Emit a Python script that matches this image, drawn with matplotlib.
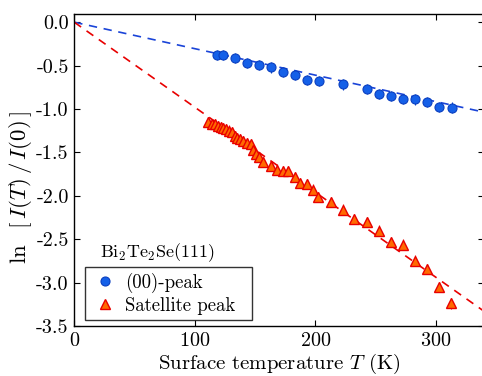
import matplotlib
matplotlib.use("Agg")
import matplotlib.pyplot as plt
from matplotlib.lines import Line2D
from matplotlib.ticker import FormatStrFormatter

plt.rcParams["font.family"] = "serif"
plt.rcParams["font.serif"] = ["cmr10"]
plt.rcParams["mathtext.fontset"] = "cm"
plt.rcParams["axes.unicode_minus"] = False
plt.rcParams["axes.formatter.use_mathtext"] = True

# (00)-peak: surface temperature (K) and ln[I(T)/I(0)]
spec_T = [118.1, 123.1, 133.3, 143.5, 153.2, 162.9, 173.1, 183.1, 192.8, 202.9,
          222.6, 243.0, 252.7, 262.4, 272.9, 282.6, 292.5, 302.2, 313.0]
spec_lnI = [-0.378, -0.378, -0.413, -0.471, -0.490, -0.521, -0.574, -0.609, -0.663, -0.675,
            -0.717, -0.767, -0.825, -0.851, -0.882, -0.890, -0.920, -0.975, -0.983]

# satellite peak
sat_T = [111.1, 113.9, 116.7, 119.4, 121.4, 123.6, 125.8, 128.6, 130.5, 133.3,
         135.2, 137.4, 140.2, 143.0, 146.3, 148.0, 150.4, 153.2, 156.8, 162.9,
         168.4, 172.8, 177.5, 183.1, 187.2, 193.3, 198.2, 202.4, 212.7, 222.6,
         232.0, 242.5, 252.7, 262.4, 272.4, 282.6, 292.8, 302.7, 312.2]
sat_lnI = [-1.148, -1.171, -1.178, -1.198, -1.209, -1.224, -1.236, -1.248, -1.263, -1.313,
           -1.332, -1.351, -1.371, -1.390, -1.401, -1.478, -1.524, -1.555, -1.609, -1.659,
           -1.697, -1.717, -1.717, -1.786, -1.851, -1.863, -1.928, -2.016, -2.070, -2.159,
           -2.266, -2.305, -2.401, -2.535, -2.563, -2.747, -2.840, -3.054, -3.239]

err = 0.06
# Debye-Waller fits through the origin: ln[I(T)/I(0)] = slope * T
spec_slope = -0.00305
sat_slope = -0.0098
fit_T = [0, 340]

blue, blue_edge = "#1560e8", "#0a3fc0"
orange, red = "#ff6a00", "#e80000"

fig = plt.figure(figsize=(4.82, 3.76), dpi=100)
ax = fig.add_axes([0.1541, 0.133, 0.8506, 0.831])

ax.plot(fit_T, [spec_slope * t for t in fit_T], ls=(0, (5, 4)), color="#1a44d8", lw=1.2)
ax.plot(fit_T, [sat_slope * t for t in fit_T], ls=(0, (5, 4)), color=red, lw=1.2)

ax.errorbar(spec_T, spec_lnI, yerr=err, fmt="o", ms=6.5, mfc=blue, mec=blue_edge,
            mew=0.8, ecolor=blue_edge, elinewidth=0.8, capsize=0)
ax.errorbar(sat_T, sat_lnI, yerr=err, fmt="^", ms=7, mfc=orange, mec=red,
            mew=1.0, ecolor=red, elinewidth=0.8, capsize=0)

ax.set_xlim(0, 340)
ax.set_ylim(-3.5, 0.1)
ax.set_xticks([0, 100, 200, 300])
ax.set_yticks([0.0, -0.5, -1.0, -1.5, -2.0, -2.5, -3.0, -3.5])
ax.yaxis.set_major_formatter(FormatStrFormatter("%.1f"))
ax.tick_params(direction="in", top=True, right=True, labelsize=14.5, length=4, width=0.8, pad=4)
for s in ax.spines.values():
    s.set_linewidth(1.0)

ax.set_xlabel(r"Surface temperature $T$ (K)", fontsize=15, labelpad=2)
ax.set_ylabel(r"$\ln\ \ [\,I(T)\,/\,I(0)\,]$", fontsize=16.5)
ax.yaxis.set_label_coords(-0.098, 0.445)

# legend markers without the error bars; box spans a fixed width
handles = [
    Line2D([], [], ls="none", marker="o", ms=6.5, mfc=blue, mec=blue_edge, mew=0.8),
    Line2D([], [], ls="none", marker="^", ms=7, mfc=orange, mec=red, mew=1.0),
]
leg = ax.legend(handles, ["(00)-peak", "Satellite peak"], loc="upper left",
                bbox_to_anchor=(0.1763, 0.1535, 0.3465, 0.1355),
                bbox_transform=fig.transFigure, mode="expand", borderaxespad=0,
                fancybox=False, edgecolor="black", fontsize=13.5, handletextpad=0.35,
                borderpad=0.3, labelspacing=0.2, handlelength=1.5)
leg.get_frame().set_linewidth(1.0)
fig.text(0.2075, 0.327, r"Bi$_2$Te$_2$Se(111)", fontsize=13, va="center")

fig.savefig("out.png", dpi=100)
